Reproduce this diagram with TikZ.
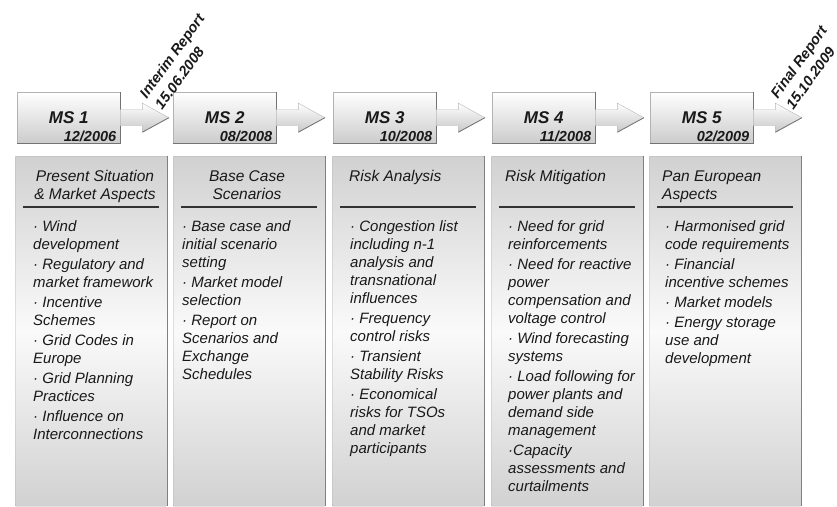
\documentclass[tikz,border=0pt]{standalone}
\usepackage{fontspec}
\setmainfont{Liberation Sans}
\begin{document}
\begin{tikzpicture}[x=1pt,y=1pt]
  \tikzstyle{milestone}=[rectangle,draw=black!30,top color=white,bottom color=black!20,minimum width=103pt,minimum height=51pt,anchor=north west,inner sep=0pt]
  \tikzstyle{mstitle}=[font=\fontsize{17}{20}\selectfont\bfseries\itshape,text=black!90,inner sep=0pt,anchor=base]
  \tikzstyle{msdate}=[font=\fontsize{14.5}{17}\selectfont\bfseries\itshape,text=black!90,inner sep=0pt,anchor=base east]
  \tikzstyle{msarrow}=[draw=black!28,top color=white,bottom color=black!22]
  \tikzstyle{msshadow}=[draw=black!55,thick]
  \tikzstyle{report}=[font=\fontsize{14.5}{19}\selectfont\bfseries\itshape,text=black!90,align=left,rotate=54,anchor=south west,inner sep=0pt]
  \tikzstyle{column}=[rectangle,draw=black!30,top color=black!18,bottom color=black!18,middle color=black!2,minimum width=152pt,minimum height=350pt,anchor=north west,inner sep=0pt,rounded corners=1pt]
  \tikzstyle{colshadow}=[draw=black!50,line width=1.5pt]
  \tikzstyle{headline}=[draw=black!80,line width=1.4pt]
  \tikzstyle{heading}=[font=\fontsize{15.5}{18}\selectfont\itshape,text=black!90,inner sep=0pt,anchor=north west,align=left]
  \tikzstyle{items}=[font=\fontsize{15}{18}\selectfont\itshape,text=black!90,inner sep=0pt,anchor=north west,align=left]

  \useasboundingbox (0,0) rectangle (837,-506);

  % work package columns
  \node [column] (c1) at (15,-156) {};
  \node [column] (c2) at (173,-156) {};
  \node [column] (c3) at (332,-156) {};
  \node [column] (c4) at (491,-156) {};
  \node [column] (c5) at (649,-156) {};
  \foreach \c in {c1,c2,c3,c4,c5} {
    \draw [colshadow] (\c.north east) -- (\c.south east);
    \draw [headline] ([xshift=8pt,yshift=-51pt]\c.north west) -- ([xshift=-8pt,yshift=-51pt]\c.north east);
  }

  \node [heading,align=center,anchor=north] (h1) at (95,-168.4) {\strut Present Situation\\ \& Market Aspects};
  \node [heading,align=center,anchor=north] (h2) at (247,-168.4) {\strut Base Case\\ Scenarios};
  \node [heading] (h3) at (349,-168.4) {\strut Risk Analysis};
  \node [heading] (h4) at (505,-168.4) {\strut Risk Mitigation};
  \node [heading] (h5) at (662,-168.4) {\strut Pan European\\ Aspects};

  \node [items] (b1) at (33,-218.4) {\strut· Wind\\ development\\[2pt] · Regulatory and\\ market framework\\[2pt] · Incentive\\ Schemes\\[2pt] · Grid Codes in\\ Europe\\[2pt] · Grid Planning\\ Practices\\[2pt] · Influence on\\ Interconnections};
  \node [items] (b2) at (182,-218.4) {\strut· Base case and\\ initial scenario\\ setting\\[2pt] · Market model\\ selection\\[2pt] · Report on\\ Scenarios and\\ Exchange\\ Schedules};
  \node [items] (b3) at (350,-218.4) {\strut· Congestion list\\ including n-1\\ analysis and\\ transnational\\ influences\\[2pt] · Frequency\\ control risks\\[2pt] · Transient\\ Stability Risks\\[2pt] · Economical\\ risks for TSOs\\ and market\\ participants};
  \node [items] (b4) at (508,-218.4) {\strut· Need for grid\\ reinforcements\\[2pt] · Need for reactive\\ power\\ compensation and\\ voltage control\\[2pt] · Wind forecasting\\ systems\\[2pt] · Load following for\\ power plants and\\ demand side\\ management\\[2pt] ·Capacity\\ assessments and\\ curtailments};
  \node [items] (b5) at (665,-218.4) {\strut· Harmonised grid\\ code requirements\\[2pt] · Financial\\ incentive schemes\\[2pt] · Market models\\[2pt] · Energy storage\\ use and\\ development};

  % milestones
  \node [milestone] (ms1) at (17,-92) {};
  \node [milestone] (ms2) at (173,-92) {};
  \node [milestone] (ms3) at (333,-92) {};
  \node [milestone] (ms4) at (492,-92) {};
  \node [milestone] (ms5) at (650,-92) {};
  \foreach \m in {ms1,ms2,ms3,ms4,ms5} {
    \draw [msshadow] (\m.north east) -- (\m.south east) -- (\m.south west);
    \draw [msarrow] (\m.east) ++(0,8) -- ++(22,0) -- ++(0,6.5) -- ++(26.5,-14.5) -- ++(-26.5,-14.5) -- ++(0,6.5) -- ++(-22,0) -- cycle;
    \draw [msshadow] (\m.east) ++(48.5,0) -- ++(-26.5,-14.5);
  }

  \node [mstitle] (t1) at ([yshift=-5.5pt]ms1.center) {MS 1};
  \node [mstitle] (t2) at ([yshift=-5.5pt]ms2.center) {MS 2};
  \node [mstitle] (t3) at ([yshift=-5.5pt]ms3.center) {MS 3};
  \node [mstitle] (t4) at ([yshift=-5.5pt]ms4.center) {MS 4};
  \node [mstitle] (t5) at ([yshift=-5.5pt]ms5.center) {MS 5};
  \node [msdate] (d1) at ([xshift=-4pt,yshift=2pt]ms1.south east) {12/2006};
  \node [msdate] (d2) at ([xshift=-4pt,yshift=2pt]ms2.south east) {08/2008};
  \node [msdate] (d3) at ([xshift=-4pt,yshift=2pt]ms3.south east) {10/2008};
  \node [msdate] (d4) at ([xshift=-4pt,yshift=2pt]ms4.south east) {11/2008};
  \node [msdate] (d5) at ([xshift=-4pt,yshift=2pt]ms5.south east) {02/2009};

  % report dates
  \node [report] (r1) at ([xshift=42pt,yshift=7pt]ms1.east) {Interim Report\\15.06.2008};
  \node [report] (r2) at ([xshift=40pt,yshift=7pt]ms5.east) {Final Report\\15.10.2009};
\end{tikzpicture}
\end{document}
